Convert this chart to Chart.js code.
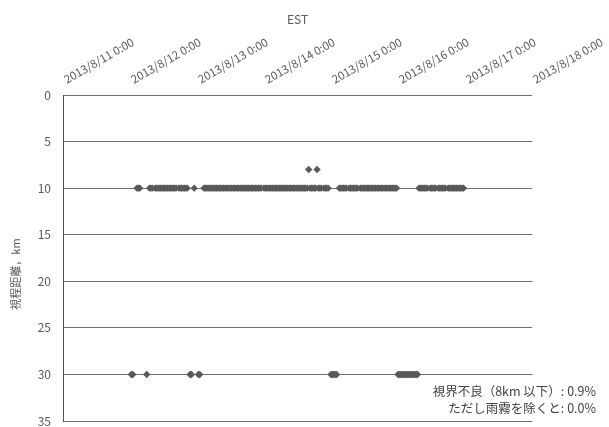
<!DOCTYPE html>
<html>
<head>
<meta charset="utf-8">
<script src="https://cdn.jsdelivr.net/npm/chart.js@4/dist/chart.umd.min.js"></script>
<style>
  html, body { margin: 0; padding: 0; background: #fff; }
  #wrap { width: 609px; height: 427px; }
</style>
</head>
<body>
<div id="wrap"><canvas id="c" width="609" height="427"></canvas></div>
<script>
// Half-hourly visibility (km); each array starts at 0:00 of its day, 48 reports per day
const vis0812 = [
  null, 30, 30, null, null, 10, 10, 10, null, null, null, null,
  30, null, 10, 10, 10, null, 10, 10, 10, 10, 10, 10,
  10, 10, 10, 10, 10, 10, 10, 10, 10, 10, null, 10,
  10, 10, 10, 10, 10, 10, null, 30, 30, null, 10, null
];
const vis0813 = [
  null, 30, 30, null, null, 10, 10, 10, 10, 10, 10, 10,
  10, 10, 10, 10, 10, 10, 10, 10, 10, 10, 10, 10,
  10, 10, 10, 10, 10, 10, 10, 10, 10, 10, 10, 10,
  10, 10, 10, 10, 10, 10, 10, 10, 10, 10, 10, null
];
const vis0814 = [
  10, 10, 10, 10, 10, 10, 10, 10, 10, 10, 10, 10,
  10, 10, 10, 10, 10, 10, 10, 10, 10, 10, 10, 10,
  10, 10, 10, 10, 10, 10, 10, 10, 8, 10, 10, 10,
  10, 10, 8, 10, 10, 10, null, 10, 10, 10, 10, null
];
const vis0815 = [
  30, 30, 30, 30, 30, null, 10, 10, 10, 10, 10, 10,
  null, 10, 10, 10, 10, 10, 10, 10, null, 10, 10, 10,
  10, 10, 10, 10, 10, 10, 10, 10, 10, 10, 10, 10,
  10, 10, 10, 10, 10, 10, 10, 10, 10, 10, 10, 10
];
const vis0816 = [
  30, 30, 30, 30, 30, 30, 30, 30, 30, 30, 30, 30,
  30, 30, 30, 10, 10, 10, 10, 10, 10, 10, null, 10,
  10, 10, 10, 10, null, 10, 10, 10, 10, 10, 10, null,
  10, 10, 10, 10, 10, 10, 10, 10, 10, 10, 10, 10
];

// Date axis: hours counted from 2013/8/11 0:00
const dayLabels = ['2013/8/11 0:00', '2013/8/12 0:00', '2013/8/13 0:00', '2013/8/14 0:00',
                   '2013/8/15 0:00', '2013/8/16 0:00', '2013/8/17 0:00', '2013/8/18 0:00'];
const dayStartHours = [0, 24, 48, 72, 96, 120, 144, 168];
const yTicks = [0, 5, 10, 15, 20, 25, 30, 35];

const axisTitleX = 'EST';
const axisTitleY = '視程距離，km';
const noteLines = ['視界不良（8km 以下）: 0.9%', 'ただし雨霧を除くと: 0.0%'];

const FONT = '"Noto Sans CJK JP", "Noto Sans", sans-serif';
const TEXT = '#595959';

// scatter points from the daily arrays (two reports per hour)
const days = [vis0812, vis0813, vis0814, vis0815, vis0816];
const points = [];
days.forEach((arr, d) => {
  const base = dayStartHours[d + 1];
  arr.forEach((v, i) => { if (v !== null) points.push({ x: base + i / 2, y: v }); });
});

// top date labels, axis titles and the note text
const decor = {
  id: 'decor',
  afterDraw(chart) {
    const { ctx, chartArea, scales } = chart;
    const xs = scales.x;
    ctx.save();
    ctx.fillStyle = TEXT;
    ctx.font = '11.5px ' + FONT;
    ctx.textAlign = 'left';
    ctx.textBaseline = 'alphabetic';
    dayLabels.forEach((lab, i) => {
      const px = xs.getPixelForValue(dayStartHours[i]);
      ctx.save();
      ctx.translate(px + 4, 84);
      ctx.rotate(-Math.PI / 6);
      ctx.fillText(lab, 0, 0);
      ctx.restore();
    });
    ctx.font = '12px ' + FONT;
    ctx.textAlign = 'center';
    ctx.textBaseline = 'middle';
    ctx.fillText(axisTitleX, (chartArea.left + chartArea.right) / 2, 19);

    ctx.save();
    ctx.font = '11px ' + FONT;
    ctx.translate(16, 274);
    ctx.rotate(-Math.PI / 2);
    ctx.fillText(axisTitleY, 0, 0);
    ctx.restore();

    ctx.fillStyle = '#404040';
    ctx.font = '12.5px ' + FONT;
    ctx.textAlign = 'right';
    ctx.textBaseline = 'middle';
    ctx.fillText(noteLines[0], 596, 391);
    ctx.fillText(noteLines[1], 596, 408);
    ctx.restore();
  }
};

new Chart(document.getElementById('c'), {
  type: 'scatter',
  data: {
    datasets: [{
      data: points,
      pointStyle: 'rectRot',
      pointRadius: 3.7,
      pointHoverRadius: 3.7,
      backgroundColor: '#595959',
      borderColor: '#595959',
      borderWidth: 0,
      showLine: false
    }]
  },
  options: {
    responsive: false,
    animation: false,
    devicePixelRatio: 1,
    layout: { padding: { top: 95, right: 77, bottom: 6, left: 0 } },
    plugins: { legend: { display: false }, tooltip: { enabled: false } },
    scales: {
      x: { type: 'linear', min: dayStartHours[0], max: dayStartHours[dayStartHours.length - 1], display: false },
      y: {
        type: 'linear',
        reverse: true,
        min: yTicks[0],
        max: yTicks[yTicks.length - 1],
        afterBuildTicks(s) { s.ticks = yTicks.map(v => ({ value: v })); },
        ticks: { color: TEXT, font: { family: FONT, size: 12 }, padding: 12 },
        grid: { color: '#6e6e6e', lineWidth: 1, drawTicks: false },
        border: { display: true, color: '#505050', width: 1 },
        title: { display: false },
        afterFit(s) { s.width = 63; s.paddingTop = 0; s.paddingBottom = 0; }
      }
    }
  },
  plugins: [decor]
});
</script>
</body>
</html>
